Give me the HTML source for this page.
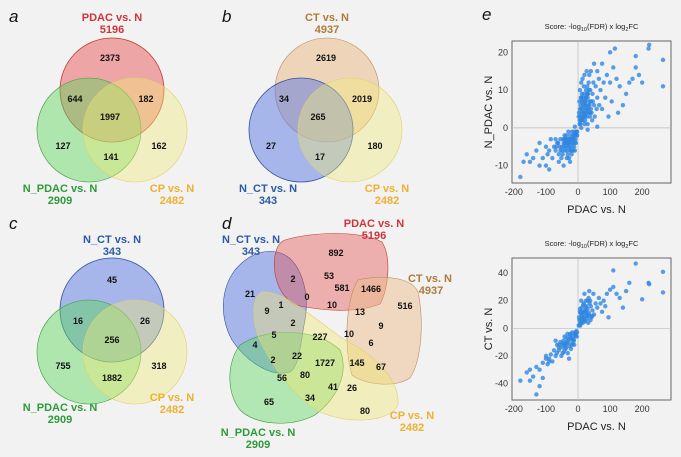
<!DOCTYPE html>
<html><head><meta charset="utf-8"><style>
html,body{margin:0;padding:0;background:#f2f2f2;}
svg{display:block;font-family:"Liberation Sans",Arial,sans-serif;}
.n{font-size:9px;font-weight:bold;fill:#111;text-anchor:middle;}
.lb{font-size:11px;font-weight:bold;text-anchor:middle;}
.pl{font-size:17px;font-style:italic;fill:#111;}
.tk{font-size:9px;fill:#333;}
</style></head><body>
<svg id="fig" width="681" height="457" viewBox="0 0 681 457">
<rect width="681" height="457" fill="#f2f2f2"/>
<g>
<text class="pl" x="9" y="22">a</text>
<circle cx="112" cy="90" r="52" fill="rgba(232,70,70,0.45)" stroke="#c0392b" stroke-width="0.8"/>
<circle cx="89" cy="130" r="52" fill="rgba(90,215,90,0.45)" stroke="#3a9a3a" stroke-width="0.6"/>
<circle cx="135" cy="130" r="52" fill="rgba(240,235,120,0.4)" stroke="#e0d070" stroke-width="0.6"/>
<text class="lb" x="112" y="21" fill="#d0343c">PDAC vs. N</text><text class="lb" x="112" y="33" fill="#d0343c">5196</text>
<text class="lb" x="60" y="192" fill="#2e9a3a">N_PDAC vs. N</text><text class="lb" x="60" y="204" fill="#2e9a3a">2909</text>
<text class="lb" x="172" y="192" fill="#f0b030">CP vs. N</text><text class="lb" x="172" y="204" fill="#f0b030">2482</text>
<text class="n" x="110" y="61">2373</text><text class="n" x="75" y="102">644</text><text class="n" x="146" y="102">182</text>
<text class="n" x="110" y="120">1997</text><text class="n" x="63" y="149">127</text><text class="n" x="111" y="160">141</text><text class="n" x="159" y="149">162</text>
</g>
<g>
<text class="pl" x="222" y="22">b</text>
<circle cx="327" cy="90" r="52" fill="rgba(235,190,140,0.55)" stroke="#b89060" stroke-width="0.6"/>
<circle cx="301" cy="130" r="52" fill="rgba(90,120,225,0.5)" stroke="#3050a0" stroke-width="0.8"/>
<circle cx="350" cy="130" r="52" fill="rgba(240,235,120,0.4)" stroke="#e0d070" stroke-width="0.6"/>
<text class="lb" x="327" y="21" fill="#b07a3a">CT vs. N</text><text class="lb" x="327" y="33" fill="#b07a3a">4937</text>
<text class="lb" x="268" y="192" fill="#2a5aa8">N_CT vs. N</text><text class="lb" x="268" y="204" fill="#2a5aa8">343</text>
<text class="lb" x="387" y="192" fill="#f0b030">CP vs. N</text><text class="lb" x="387" y="204" fill="#f0b030">2482</text>
<text class="n" x="326" y="61">2619</text><text class="n" x="284" y="102">34</text><text class="n" x="362" y="102">2019</text>
<text class="n" x="318" y="120">265</text><text class="n" x="271" y="149">27</text><text class="n" x="320" y="160">17</text><text class="n" x="375" y="149">180</text>
</g>
<g>
<text class="pl" x="9" y="229">c</text>
<circle cx="112" cy="310" r="52" fill="rgba(90,120,225,0.5)" stroke="#3050a0" stroke-width="0.8"/>
<circle cx="89" cy="352" r="52" fill="rgba(90,215,90,0.45)" stroke="#3a9a3a" stroke-width="0.6"/>
<circle cx="135" cy="352" r="52" fill="rgba(240,235,120,0.4)" stroke="#e0d070" stroke-width="0.6"/>
<text class="lb" x="112" y="243" fill="#2a5aa8">N_CT vs. N</text><text class="lb" x="112" y="255" fill="#2a5aa8">343</text>
<text class="lb" x="60" y="411" fill="#2e9a3a">N_PDAC vs. N</text><text class="lb" x="60" y="423" fill="#2e9a3a">2909</text>
<text class="lb" x="172" y="401" fill="#f0b030">CP vs. N</text><text class="lb" x="172" y="413" fill="#f0b030">2482</text>
<text class="n" x="112" y="283">45</text><text class="n" x="78" y="324">16</text><text class="n" x="145" y="324">26</text>
<text class="n" x="112" y="343">256</text><text class="n" x="63" y="369">755</text><text class="n" x="112" y="381">1882</text><text class="n" x="159" y="369">318</text>
</g>
<g>
<text class="pl" x="222" y="229">d</text>
<path d="M283,254 C300,262 310,290 305,320 C300,345 300,365 290,372 C270,378 245,360 232,340 C220,318 220,290 235,270 C250,252 268,248 283,254 Z" fill="rgba(90,120,225,0.5)" stroke="#3050a0" stroke-width="0.6"/>
<path d="M285,240 C310,232 360,230 382,242 C392,258 388,290 380,304 C360,312 330,312 300,306 C278,300 272,272 275,255 C277,246 280,242 285,240 Z" fill="rgba(232,80,80,0.42)" stroke="#c0392b" stroke-width="0.6"/>
<path d="M358,280 C385,274 412,278 418,292 C424,320 422,360 410,378 C395,388 365,385 352,375 C344,350 345,300 358,280 Z" fill="rgba(235,190,140,0.5)" stroke="#b89060" stroke-width="0.6"/>
<path d="M240,345 C270,325 320,330 340,350 C350,375 335,400 315,415 C290,428 255,425 240,410 C225,390 228,360 240,345 Z" fill="rgba(90,215,90,0.42)" stroke="#3a9a3a" stroke-width="0.6"/>
<path d="M262,292 C285,290 315,320 345,340 C375,355 400,380 398,405 C390,422 350,425 320,412 C295,398 275,370 262,345 C252,325 250,298 262,292 Z" fill="rgba(240,230,110,0.4)" stroke="#e0d070" stroke-width="0.6"/>
<text class="lb" x="251" y="243" fill="#2a5aa8">N_CT vs. N</text><text class="lb" x="251" y="255" fill="#2a5aa8">343</text>
<text class="lb" x="374" y="227" fill="#d0343c">PDAC vs. N</text><text class="lb" x="374" y="239" fill="#d0343c">5196</text>
<text class="lb" x="430" y="282" fill="#b07a3a">CT vs. N</text><text class="lb" x="431" y="294" fill="#b07a3a">4937</text>
<text class="lb" x="412" y="419" fill="#f0b030">CP vs. N</text><text class="lb" x="412" y="431" fill="#f0b030">2482</text>
<text class="lb" x="258" y="436" fill="#2e9a3a">N_PDAC vs. N</text><text class="lb" x="258" y="448" fill="#2e9a3a">2909</text>
<text class="n" x="336" y="256">892</text><text class="n" x="293" y="282">2</text><text class="n" x="329" y="279">53</text>
<text class="n" x="342" y="291">581</text><text class="n" x="371" y="292">1466</text><text class="n" x="250" y="297">21</text>
<text class="n" x="307" y="300">0</text><text class="n" x="332" y="308">10</text><text class="n" x="405" y="309">516</text>
<text class="n" x="267" y="314">9</text><text class="n" x="281" y="308">1</text><text class="n" x="360" y="315">13</text>
<text class="n" x="293" y="326">2</text><text class="n" x="381" y="329">9</text><text class="n" x="274" y="338">5</text>
<text class="n" x="320" y="340">227</text><text class="n" x="349" y="337">10</text><text class="n" x="371" y="346">6</text>
<text class="n" x="255" y="348">4</text><text class="n" x="273" y="363">2</text><text class="n" x="297" y="359">22</text>
<text class="n" x="325" y="366">1727</text><text class="n" x="357" y="366">145</text><text class="n" x="381" y="370">67</text>
<text class="n" x="282" y="381">56</text><text class="n" x="305" y="378">80</text><text class="n" x="333" y="390">41</text>
<text class="n" x="352" y="391">26</text><text class="n" x="310" y="401">34</text><text class="n" x="269" y="405">65</text><text class="n" x="365" y="414">80</text>
</g>
<text class="pl" x="482" y="20" font-size="15">e</text>
<g id="sc1"></g>
<g id="sc2"></g>
</svg>
<script>
const xTicks=[-200,-100,0,100,200];
const yTicks1=[20,10,0,-10];
const yTicks2=[40,20,0,-20,-40];
const pts1X=[5,10,15,20,25,30,35,40,12,18,22,28,8,45,50,55,60,33,38,15,25,42,48,30,6,10,20,35,65,70,80,90,100,110,120,130,140,150,160,170,180,190,200,220,222,265,265,100,115,180,75,85,95,105,125,60,50,40,3,8,16,24,32,44,52,14,27,58,66,75,4,7,11,19,26,36,9,13,17,21,23,29,31,37,
2,6,12,18,24,30,36,14,20,26,32,38,10,16,22,28,34,40,46,5,9,13,17,21,25,29,
-5,-10,-15,-20,-25,-30,-35,-40,-45,-50,-55,-60,-12,-22,-32,-42,-52,-8,-18,-28,-38,-48,-65,-70,-75,-80,-85,-90,-95,-100,-110,-120,-130,-140,-150,-160,-170,-180,-100,-90,-120,-60,-70,-30,-15,-25,-35,-45,-55,-3,-7,-13,-17,-23,-27,-33,-37,-43,-20,-10,-28,-40,10,30,60,-10,
-4,-9,-14,-19,-24,-29,-34,-39,-44,-49,-6,-11,-16,-21,-26,-31,-36,-41,-46,-58,-62,-68,-3,-8];
const pts1Y=[2,4,3,6,5,8,4,7,9,11,2,3,6,9,6,11,8,12,10,8,10,4,12,1,10,12,14,14,13,10,12,14,12,16,13,11,6,9,12,13,16,14,12,21,22,18,11,20,21,19,5,8,3,7,4,15,17,15,4,1,5,7,6,2,3,13,15,5,6,17,7,3,5,9,4,6,8,2,7,3,8,5,9,3,
3,5,7,4,6,9,7,2,3,4,5,4,8,6,7,9,10,5,7,1,2,3,4,1,8,11,
-1,-2,-3,-4,-2,-5,-3,-6,-4,-5,-3,-7,-5,-6,-7,-2,-8,-3,-1,-8,-5,-7,-4,-6,-5,-8,-3,-6,-7,-5,-8,-4,-6,-8,-9,-7,-9,-13,-10,-11,-10,-9,-3,-1,-6,-9,-8,-10,-6,-2,-4,-2,-4,-3,-5,-4,-2,-3,-7,-6,-4,-4,0,-0.5,0.3,0.3,
-2,-4,-3,-5,-6,-4,-6,-3,-5,-6,-1,-1,-2,-3,-3,-3,-4,-4,-3,-5,-4,-5,-1,-2];
const pts2X=[5,10,15,20,25,30,35,40,12,18,22,28,8,45,50,55,60,33,38,15,25,42,48,6,10,20,35,65,70,80,90,100,110,120,130,140,150,160,180,110,265,265,220,222,200,75,85,95,4,7,11,19,26,36,9,13,17,23,29,31,
3,6,14,21,27,34,39,44,16,24,32,2,12,
-5,-10,-15,-20,-25,-30,-35,-40,-45,-50,-55,-60,-12,-22,-32,-42,-52,-8,-18,-28,-38,-48,-65,-70,-75,-80,-85,-90,-95,-100,-110,-120,-130,-140,-150,-160,-180,-130,-120,-150,-110,-100,-90,-60,-70,-3,-7,-13,-17,-23,-27,-33,-37,-43,
-4,-9,-14,-19,-24,-29,-34,-39,-44,-49,-58,-66];
const pts2Y=[3,6,8,10,12,14,9,16,15,18,5,7,11,13,10,18,15,22,20,4,20,8,25,14,20,25,27,22,18,20,25,28,42,25,22,15,27,33,47,30,41,26,33,32,21,12,16,8,6,2,9,12,16,18,4,11,7,13,10,20,
8,12,12,6,9,11,6,9,17,15,4,2,5,
-2,-4,-6,-8,-5,-10,-7,-12,-9,-14,-10,-16,-12,-15,-18,-6,-20,-5,-3,-22,-14,-18,-12,-20,-16,-24,-19,-22,-26,-20,-25,-30,-28,-35,-38,-32,-38,-48,-42,-30,-36,-22,-24,-14,-9,-3,-5,-9,-11,-7,-13,-4,-10,-12,
-6,-3,-8,-12,-4,-8,-11,-15,-17,-11,-12,-18];
const NS="http://www.w3.org/2000/svg";
function mk(tag,attrs,parent){const e=document.createElementNS(NS,tag);for(const k in attrs)e.setAttribute(k,attrs[k]);parent.appendChild(e);return e;}
function scatter(g,top,bottom,ymin,ymax,yTicks,xs,ys,ylabel){
  const L=512,R=671,xmin=-206,xmax=290;
  const sx=v=>L+(v-xmin)/(xmax-xmin)*(R-L);
  const sy=v=>bottom-(v-ymin)/(ymax-ymin)*(bottom-top);
  const fr=mk('rect',{x:L,y:top,width:R-L,height:bottom-top,fill:'#f2f2f2',stroke:'#666','stroke-width':1},g);
  
  
  const vz=mk('line',{x1:sx(0),x2:sx(0),y1:top,y2:bottom,stroke:'#bbb','stroke-width':0.7},g);
  
  
  const hz=mk('line',{x1:L,x2:R,y1:sy(0),y2:sy(0),stroke:'#bbb','stroke-width':0.7},g);
  
  
  for(let i=0;i<xs.length;i++){
    const c=mk('circle',{cx:sx(xs[i]),cy:sy(ys[i]),r:2.2,fill:'#2f86e0','fill-opacity':0.8},g);
    
    
  }
  xTicks.forEach(t=>{
    const tx=mk('text',{x:sx(t),y:bottom+12,'text-anchor':'middle',class:'tk'},g);tx.textContent=t;
    
    
  });
  yTicks.forEach(t=>{
    const ty=mk('text',{x:L-4,y:sy(t)+3,'text-anchor':'end',class:'tk'},g);ty.textContent=t;
    
    
  });
  const xl=mk('text',{x:(L+R)/2+5,y:bottom+30,'text-anchor':'middle','font-size':11,fill:'#222'},g);xl.textContent='PDAC vs. N';
  
  
  const cy=(top+bottom)/2;
  const yl=mk('text',{x:492,y:cy,'text-anchor':'middle','font-size':11,fill:'#222',transform:`rotate(-90 492 ${cy})`},g);yl.textContent=ylabel;
  
  
  const tt=mk('text',{x:(L+R)/2,y:top-12,'text-anchor':'middle','font-size':7.5,fill:'#222'},g);
  tt.innerHTML='Score: -log<tspan font-size="5.5" dy="2">10</tspan><tspan dy="-2">(FDR) x log</tspan><tspan font-size="5.5" dy="2">2</tspan><tspan dy="-2">FC</tspan>';
  
  
}
scatter(document.getElementById('sc1'),41,183,-14.6,23,yTicks1,pts1X,pts1Y,'N_PDAC vs. N');
scatter(document.getElementById('sc2'),258,400,-52,51,yTicks2,pts2X,pts2Y,'CT vs. N');
</script>
</body></html>
